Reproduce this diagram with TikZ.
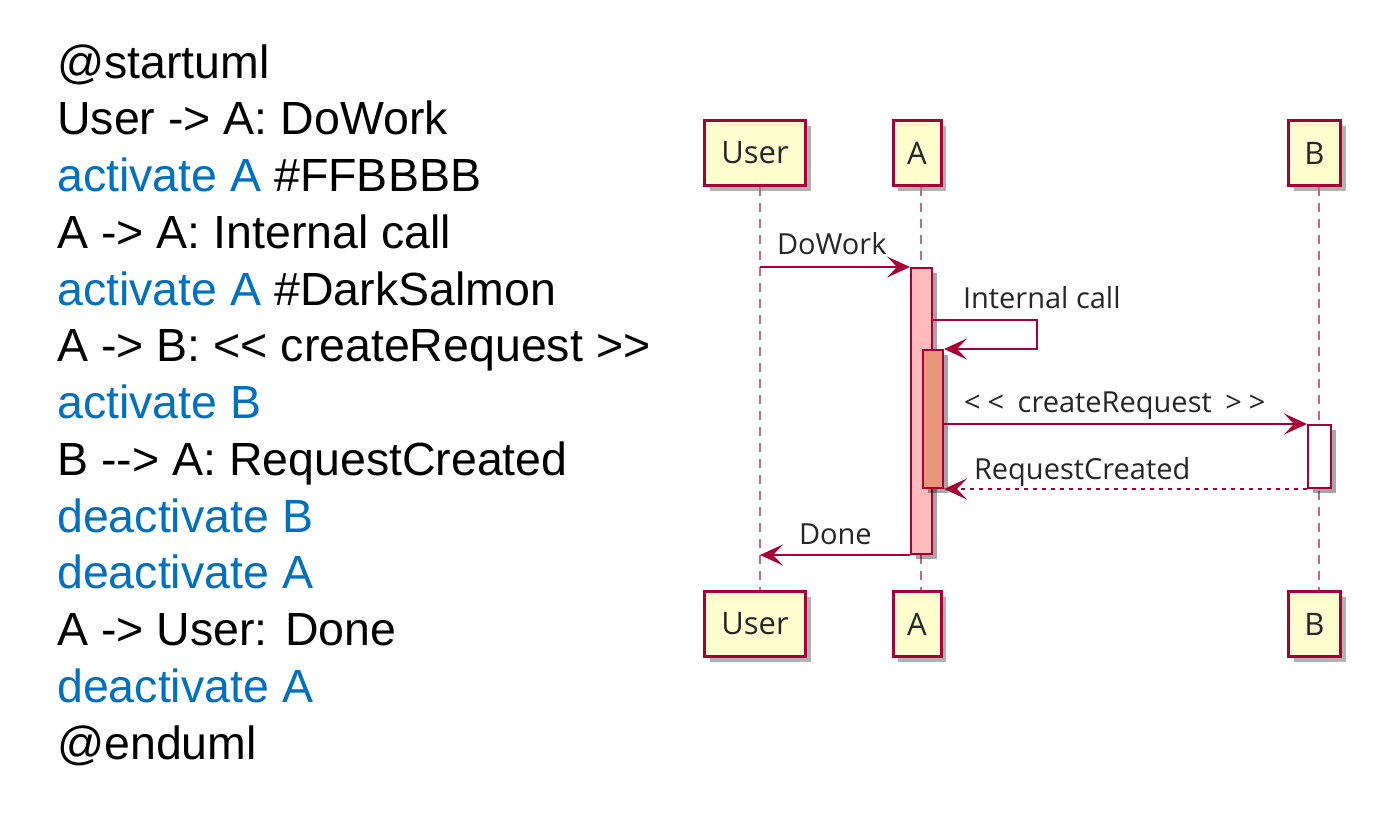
\documentclass[tikz,border=0pt]{standalone}
\usepackage{fontspec}
\setmainfont{Liberation Sans}[Ligatures=TeXOff]
\newfontfamily\umlfont{Open Sans}[Ligatures=TeXOff]
\usepackage{xcolor}
\usetikzlibrary{arrows.meta,positioning,shadows}
\definecolor{umlred}{HTML}{A80036}
\definecolor{umlbox}{HTML}{FEFECE}
\definecolor{actpink}{HTML}{FFBBBB}
\definecolor{darksalmon}{HTML}{E9967A}
\definecolor{kwblue}{HTML}{0070C0}
\newcommand{\kwd}[1]{\textcolor{kwblue}{#1}}

\begin{document}
\begin{tikzpicture}[x=1pt,y=-1pt,>={Stealth[length=23pt,width=21pt,inset=10pt]}]
  \tikzstyle{code}=[anchor=base west,inner sep=0,font=\fontsize{46.5}{56}\selectfont]
  \tikzstyle{part}=[draw=umlred,line width=3pt,fill=umlbox,inner sep=0,minimum height=65pt,text=black!85,font=\umlfont\fontsize{31}{36}\selectfont,drop shadow={shadow xshift=5pt,shadow yshift=-5pt,opacity=.3,fill=black}]
  \tikzstyle{act}=[draw=umlred,line width=2pt,inner sep=0,drop shadow={shadow xshift=5pt,shadow yshift=-5pt,opacity=.35,fill=black}]
  \tikzstyle{life}=[draw=umlred!60,line width=2pt,dash pattern=on 9pt off 7pt]
  \tikzstyle{msg}=[draw=umlred,line width=2pt,->]
  \tikzstyle{reply}=[msg,dash pattern=on 4pt off 5pt]
  \tikzstyle{lbl}=[anchor=base west,inner sep=0,text=black!85,font=\umlfont\fontsize{29}{34}\selectfont]
  \path[use as bounding box,fill=white] (0,0) rectangle (1375,822);

  % source text
  \node[code] (l0) at (57,78) {@startuml};
  \node[code] (l1) at (57,134.75) {User -> A: DoWork};
  \node[code] (l2) at (57,191.5) {\kwd{activate A} \#FFBBBB};
  \node[code] (l3) at (57,248.25) {A -> A: Internal call};
  \node[code] (l4) at (57,305) {\kwd{activate A} \#DarkSalmon};
  \node[code] (l5) at (57,361.75) {A -> B: << createRequest >>};
  \node[code] (l6) at (57,418.5) {\kwd{activate B}};
  \node[code] (l7) at (57,475.25) {B --> A: RequestCreated};
  \node[code] (l8) at (57,532) {\kwd{deactivate B}};
  \node[code] (l9) at (57,588.75) {\kwd{deactivate A}};
  \node[code] (l10) at (57,645.5) {A -> User: Done};
  \node[code] (l11) at (57,702.25) {\kwd{deactivate A}};
  \node[code] (l12) at (57,759) {@enduml};

  % participants
  \node[part,minimum width=101pt] (utop) at (755,153) {User};
  \node[part,minimum width=48pt] (atop) at (917,153) {A};
  \node[part,minimum width=52pt] (btop) at (1314.5,153) {B};
  \node[part,minimum width=101pt] (ubot) at (755,624) {User};
  \node[part,minimum width=48pt] (abot) at (917,624) {A};
  \node[part,minimum width=52pt] (bbot) at (1314.5,624) {B};

  % lifelines
  \coordinate (Lu) at (760,0);
  \coordinate (La) at (921,0);
  \coordinate (Lb) at (1319,0);
  \draw[life] (Lu |- utop.south) -- (Lu |- ubot.north);
  \draw[life] (La |- atop.south) -- (La |- abot.north);
  \draw[life] (Lb |- btop.south) -- (Lb |- bbot.north);

  % activations
  \node[act,fill=actpink,minimum width=21pt,minimum height=286pt] (actA) at (921.5,411) {};
  \node[act,fill=darksalmon,minimum width=20pt,minimum height=138pt] (actA2) at (933,419) {};
  \node[act,fill=white,minimum width=23pt,minimum height=63pt] (actB) at (1319.5,456.5) {};

  % messages
  \coordinate (selfc) at (1037,320);
  \draw[msg] (Lu |- actA.north west) -- node[lbl,at start,xshift=16pt,yshift=13pt] (tDo) {DoWork} (actA.north west);
  \draw[msg] (actA.east |- selfc) -- node[lbl,at start,xshift=29pt,yshift=12pt] (tIn) {Internal call} (selfc) |- (actA2.north east);
  \draw[msg] (actA2.east |- actB.north west) -- node[lbl,at start,xshift=19pt,yshift=12pt] (tCr) {<\kern7pt<\hspace{6pt} createRequest\hspace{6pt} >\kern7pt>} (actB.north west);
  \draw[reply] (actB.south west) -- node[lbl,at end,xshift=29pt,yshift=10pt] (tRc) {RequestCreated} (actA2.south east);
  \draw[msg] (actA.south west) -- node[lbl,at end,xshift=38pt,yshift=11pt] (tDn) {Done} (Lu |- actA.south west);
\end{tikzpicture}
\end{document}
